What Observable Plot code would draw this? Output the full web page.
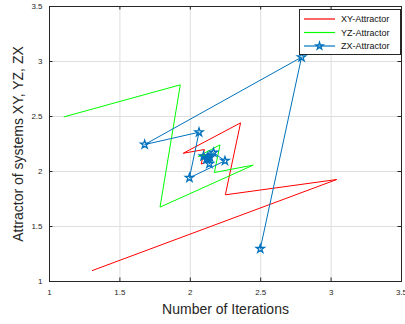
<!DOCTYPE html>
<html>
<head>
<meta charset="utf-8">
<script src="https://cdn.jsdelivr.net/npm/d3@7"></script>
<script src="https://cdn.jsdelivr.net/npm/@observablehq/plot@0.6"></script>
<style>
  html, body { margin: 0; padding: 0; background: #fff; }
  #wrap { position: relative; width: 405px; height: 324px; font-family: "Liberation Sans", Arial, sans-serif; }
  #legend { position: absolute; left: 299px; top: 9px; }
</style>
</head>
<body>
<div id="wrap"></div>
<script>
// ---- data ----
const xTicks = [1, 1.5, 2, 2.5, 3, 3.5];
const yTicks = [1, 1.5, 2, 2.5, 3, 3.5];

const xyX = [1.305, 3.04, 2.249, 2.357, 1.95, 2.10, 2.078, 2.153, 2.115, 2.14, 2.122, 2.13];
const xyY = [1.10, 1.927, 1.788, 2.442, 2.166, 2.20, 2.068, 2.106, 2.15, 2.112, 2.128, 2.12];

const yzX = [1.104, 1.929, 1.785, 2.447, 2.171, 2.211, 2.057, 2.165, 2.112, 2.14, 2.122, 2.13];
const yzY = [2.497, 2.788, 1.676, 2.058, 1.991, 2.242, 2.138, 2.16, 2.09, 2.135, 2.115, 2.124];

const zxX = [2.497, 2.79, 1.676, 2.062, 1.994, 2.246, 2.165, 2.136, 2.094, 2.14, 2.115, 2.128, 2.12, 2.125, 2.122, 2.124];
const zxY = [1.297, 3.039, 2.245, 2.357, 1.943, 2.097, 2.172, 2.07, 2.139, 2.13, 2.11, 2.125, 2.118, 2.122, 2.12, 2.121];

const seriesNames = ["XY-Attractor", "YZ-Attractor", "ZX-Attractor"];
const seriesColors = ["#ff0000", "#00ff00", "#0072bd"];
const xLabel = "Number of Iterations";
const yLabel = "Attractor of systems XY, YZ, ZX";

// ---- build tables ----
const toRows = (xs, ys) => xs.map((x, i) => ({x, y: ys[i]}));
const xy = toRows(xyX, xyY);
const yz = toRows(yzX, yzY);
const zx = toRows(zxX, zxY);

const axisColor = "#262626";
const tlY = 0.032, tlX = 0.025;

const chart = Plot.plot({
  width: 405,
  height: 324,
  marginLeft: 49,
  marginRight: 4,
  marginTop: 6,
  marginBottom: 43,
  style: {fontFamily: "'Liberation Sans', Arial, sans-serif", fontSize: "8px", color: axisColor, background: "white"},
  x: {domain: [1, 3.5]},
  y: {domain: [1, 3.5]},
  marks: [
    Plot.gridX(xTicks, {stroke: "#dedede", strokeOpacity: 1}),
    Plot.gridY(yTicks, {stroke: "#dedede", strokeOpacity: 1}),
    Plot.axisX(xTicks, {tickSize: 0, tickPadding: 8, tickFormat: d => String(d), label: null, fill: axisColor}),
    Plot.axisY(yTicks, {tickSize: 0, tickPadding: 7, tickFormat: d => String(d), label: null, fill: axisColor}),
    Plot.ruleX(xTicks, {x: d => d, y1: 1, y2: 1 + tlY, stroke: axisColor}),
    Plot.ruleX(xTicks, {x: d => d, y1: 3.5 - tlY, y2: 3.5, stroke: axisColor}),
    Plot.ruleY(yTicks, {y: d => d, x1: 1, x2: 1 + tlX, stroke: axisColor}),
    Plot.ruleY(yTicks, {y: d => d, x1: 3.5 - tlX, x2: 3.5, stroke: axisColor}),
    Plot.frame({stroke: axisColor}),
    Plot.line(xy, {x: "x", y: "y", stroke: seriesColors[0], strokeWidth: 1}),
    Plot.line(yz, {x: "x", y: "y", stroke: seriesColors[1], strokeWidth: 1}),
    Plot.line(zx, {x: "x", y: "y", stroke: seriesColors[2], strokeWidth: 1}),
    Plot.dot(zx, {x: "x", y: "y", symbol: "star", r: 2.6, stroke: seriesColors[2], fill: "none", strokeWidth: 1.3}),
    Plot.text([xLabel], {text: d => d, frameAnchor: "bottom", dy: 32, fontSize: 14, fill: axisColor}),
    Plot.text([yLabel], {text: d => d, frameAnchor: "left", textAnchor: "middle", rotate: -90, dx: -31, fontSize: 14, fill: axisColor})
  ]
});

const wrap = document.getElementById("wrap");
wrap.appendChild(chart);

// ---- legend ----
const lw = 102, lh = 46;
const legend = d3.create("svg").attr("id", "legend").attr("width", lw).attr("height", lh);
legend.append("rect").attr("x", 0.5).attr("y", 0.5).attr("width", lw - 1).attr("height", lh - 1)
  .attr("fill", "white").attr("stroke", axisColor);
seriesNames.forEach((name, i) => {
  const cy = 10 + i * 13.5;
  legend.append("path").attr("d", `M5,${cy}H36`)
    .style("stroke", seriesColors[i]).style("stroke-width", "1.2px").style("fill", "none");
  if (i === 2) {
    legend.append("path").attr("d", d3.symbol(d3.symbolStar, 16)())
      .attr("transform", `translate(20.5,${cy})`)
      .style("fill", "none").style("stroke", seriesColors[i]).style("stroke-width", "1.3px");
  }
  legend.append("text").attr("x", 42).attr("y", cy).attr("dy", "0.35em")
    .attr("font-size", 9).attr("fill", "#111")
    .attr("font-family", "'Liberation Sans', Arial, sans-serif").text(name);
});
wrap.appendChild(legend.node());
</script>
</body>
</html>
